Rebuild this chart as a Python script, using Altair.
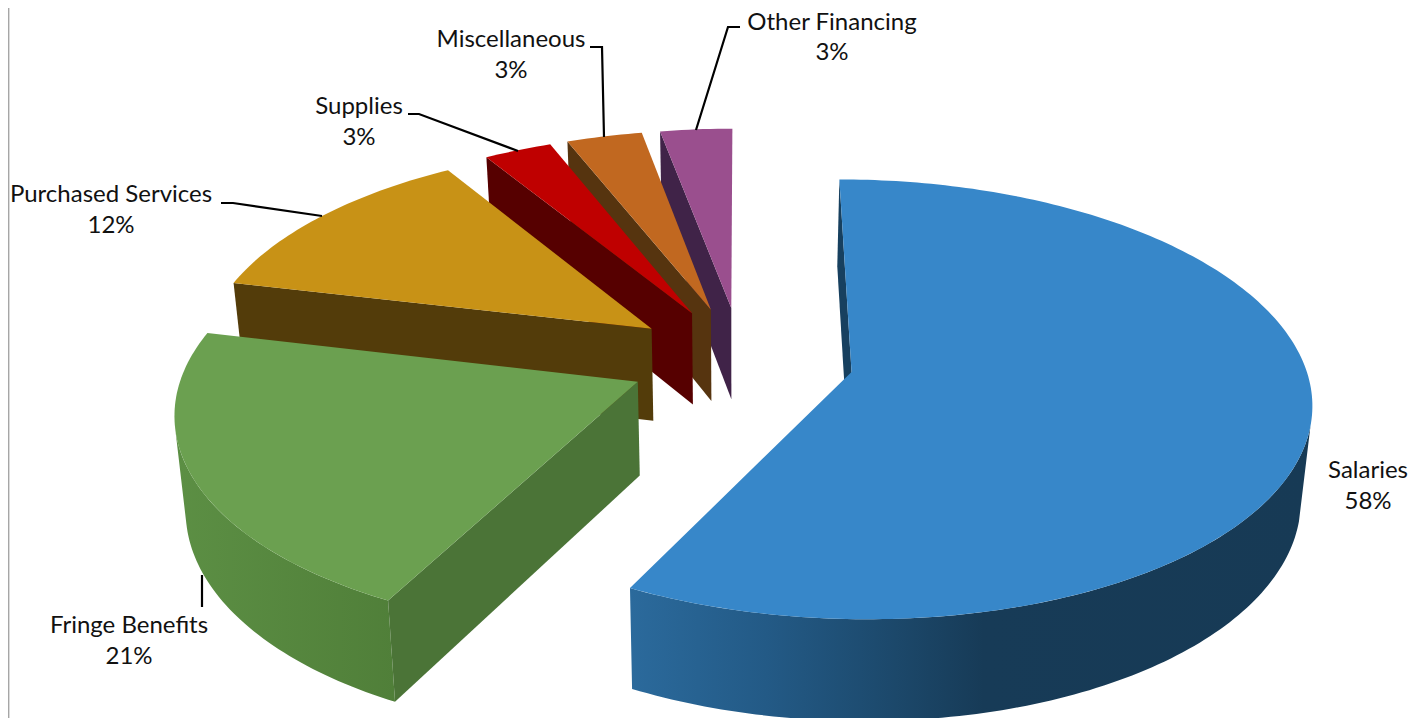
import math
import altair as alt
import pandas as pd

# ---- chart values -------------------------------------------------------
categories = ["Salaries", "Fringe Benefits", "Purchased Services",
              "Supplies", "Miscellaneous", "Other Financing"]
shares = [57.6, 21.08, 12.49, 2.78, 3.1, 2.95]
pct_labels = ["58%", "21%", "12%", "3%", "3%", "3%"]

top_colors = ["#3787C9", "#6BA050", "#C89216", "#BF0000", "#C16820", "#9A4F8E"]
wall_colors = ["#17405F", "#4B7437", "#533C0A", "#560000", "#56340F", "#402348"]

# ---- 3-D pie camera (pixels of the page) ---------------------------------
XC, Y0 = 741.4, 359.3
RX, PERSP, K = 452.0, 0.1236, 1726.0
EXPLODE = 0.249
DEPTH, DEPTH_W, CONVERGE = 93.0, 59.0, 0.98
VX = 735.0
# the outer wall is visible between these two silhouette angles
WALL_FROM, WALL_TO = 104.0, 258.0


def project(X, Y, low=False):
    w = 1.0 / (1.0 + PERSP * Y)
    x = XC + RX * X * w
    y = Y0 + K * (w - 1.0)
    if low:
        x = VX + (x - VX) * CONVERGE
        y = y + DEPTH + DEPTH_W * (w - 1.0)
    return x, y


def polar(phi_deg, r=1.0):
    p = math.radians(phi_deg)
    return r * math.sin(p), r * math.cos(p)


def poly(points):
    return pd.DataFrame({"seq": range(len(points)),
                         "x": [p[0] for p in points],
                         "y": [p[1] for p in points]})


X_SCALE = alt.Scale(domain=[8, 1408], range=[0, 1400], nice=False, zero=False)
Y_SCALE = alt.Scale(domain=[8, 718], range=[0, 710], nice=False, zero=False)


def enc(chart):
    return chart.encode(
        x=alt.X("x:Q", scale=X_SCALE, axis=None),
        y=alt.Y("y:Q", scale=Y_SCALE, axis=None),
        order=alt.Order("seq:Q"),
    )


def face(points, fill):
    return enc(alt.Chart(poly(points)).mark_line(
        interpolate="linear-closed", fill=fill, strokeWidth=0))


def stops(color_stops):
    return alt.Gradient(
        gradient="linear", x1=0, x2=1, y1=0, y2=0,
        stops=[alt.GradientStop(offset=o, color=c) for o, c in color_stops])


arc_fills = {
    0: stops([(0.0, "#2B6A9C"), (0.2, "#235A86"), (0.36, "#1D4B6F"),
              (0.52, "#173B57"), (1.0, "#173A55")]),
    1: stops([(0.0, "#5C8F44"), (1.0, "#507F39")]),
}

layers = []
start = 0.0
spans = []
for s in shares:
    spans.append((start, start + s * 3.6))
    start += s * 3.6

for i in reversed(range(len(shares))):
    a0, a1 = spans[i]
    ex, ey = polar((a0 + a1) / 2, EXPLODE)
    n = max(4, int(a1 - a0))
    angles = [a0 + (a1 - a0) * k / n for k in range(n + 1)]
    # outer wall: only the part facing the viewer
    lo, hi = max(a0, WALL_FROM), min(a1, WALL_TO)
    if i in arc_fills and hi > lo:
        m = int(hi - lo)
        vis = [lo + (hi - lo) * k / m for k in range(m + 1)]
        upper = [project(ex + polar(t)[0], ey + polar(t)[1]) for t in vis]
        lower = [project(ex + polar(t)[0], ey + polar(t)[1], True) for t in reversed(vis)]
        layers.append(face(upper + lower, arc_fills[i]))
    # radial wall at the slice's leading edge
    cx, cy = polar(a0)
    wall = [project(ex + cx, ey + cy), project(ex, ey),
            project(ex, ey, True), project(ex + cx, ey + cy, True)]
    layers.append(face(wall, wall_colors[i]))
    # top face
    top = [project(ex, ey)] + [project(ex + polar(t)[0], ey + polar(t)[1]) for t in angles]
    layers.append(face(top, top_colors[i]))

# ---- leader lines and labels --------------------------------------------
leaders = [
    [(221, 203), (233, 203), (322, 216)],
    [(408, 114), (419, 114), (518, 151)],
    [(590, 47), (602, 47), (604, 137)],
    [(740, 27), (728, 27), (696, 130)],
    [(202, 575), (202, 607)],
]
for pts in leaders:
    layers.append(enc(alt.Chart(poly(pts)).mark_line(
        color="#000000", strokeWidth=2.2)))

label_anchor = {
    "Salaries": (1368, 471),
    "Fringe Benefits": (129, 626),
    "Purchased Services": (111, 195),
    "Supplies": (359, 107),
    "Miscellaneous": (511, 40),
    "Other Financing": (832, 22.5),
}
rows = []
for name, pct in zip(categories, pct_labels):
    ax, ay = label_anchor[name]
    rows.append({"x": ax, "y": ay, "t": name})
    rows.append({"x": ax, "y": ay + (30 if name == "Other Financing" else 31), "t": pct})
text = alt.Chart(pd.DataFrame(rows)).mark_text(
    font="Lato", fontSize=24, color="#111111", align="center", baseline="middle"
).encode(
    x=alt.X("x:Q", scale=X_SCALE, axis=None),
    y=alt.Y("y:Q", scale=Y_SCALE, axis=None),
    text="t:N",
)
layers.append(text)

# ---- frame --------------------------------------------------------------
layers.append(alt.Chart(pd.DataFrame({"x": [8.7], "y": [8], "y2": [718]})).mark_rule(
    color="#A6A6A6", strokeWidth=1.4
).encode(
    x=alt.X("x:Q", scale=X_SCALE, axis=None),
    y=alt.Y("y:Q", scale=Y_SCALE, axis=None),
    y2="y2:Q",
))

chart = alt.layer(*layers).properties(
    width=1400, height=710, padding=0, background="#FFFFFF",
    autosize=alt.AutoSizeParams(type="none"),
).configure_view(stroke=None)

chart.save("out.html", embed_options={"renderer": "svg", "actions": False})
